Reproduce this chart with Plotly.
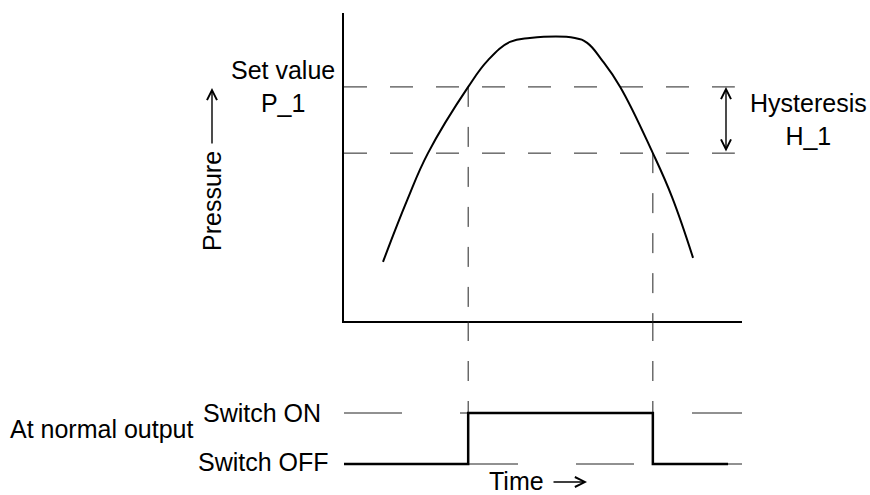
import plotly.graph_objects as go

W, H = 870, 495

# ---------------- data ----------------
time = [9.8, 15.9, 21.1, 31.2, 36.2, 41.7, 46.7, 58.0, 61.1, 64.8, 69.4, 77.6, 82.4, 87.7]
pressure = [19.2, 39.3, 54.5, 76.0, 84.7, 90.6, 91.9, 91.9, 90.3, 84.7, 76.0, 54.5, 40.3, 20.5]

set_value = 76.0        # P_1
reset_value = 54.5      # P_1 - H_1
t_on = 31.2
t_off = 77.6
ref_end = 98.2          # extent of the dashed pressure reference lines
level_end = 100.0       # extent of the dashed switch level lines

switch_t = [0, t_on, t_off, 96.5]
switch_state = [0, 1, 0, 0]
levels = [0, 1]         # OFF, ON

# ---------------- layout helpers ----------------
def px(x):
    return x / W

def py(y):
    return 1 - y / H

Y2_RANGE = [-16 / 51, 1 + 92 / 51]

BLACK = "black"
FONT = dict(family="Liberation Sans, Arial, sans-serif", size=25, color=BLACK)

fig = go.Figure()

# dashed pressure reference lines
for v in (set_value, reset_value):
    fig.add_trace(go.Scatter(x=[0, ref_end], y=[v, v], mode="lines",
                             line=dict(color="#222", width=1, dash="23px,23px"),
                             xaxis="x", yaxis="y", hoverinfo="skip"))

# vertical dashed lines
for t, v in ((t_on, set_value), (t_off, reset_value)):
    fig.add_trace(go.Scatter(x=[t, t], y=[v, 0], mode="lines",
                             line=dict(color="#222", width=1, dash="20px,20px"),
                             xaxis="x", yaxis="y", hoverinfo="skip"))
    fig.add_trace(go.Scatter(x=[t, t], y=[Y2_RANGE[1], 0], mode="lines",
                             line=dict(color="#222", width=1, dash="20px,20px"),
                             xaxis="x", yaxis="y2", hoverinfo="skip"))

# dashed switch levels
for lv in levels:
    fig.add_trace(go.Scatter(x=[0, level_end], y=[lv, lv], mode="lines",
                             line=dict(color="#222", width=1, dash="58px,58px"),
                             xaxis="x", yaxis="y2", hoverinfo="skip"))

# pressure curve
fig.add_trace(go.Scatter(x=time, y=pressure, mode="lines",
                         line=dict(color=BLACK, width=2, shape="spline", smoothing=1.2),
                         xaxis="x", yaxis="y", hoverinfo="skip"))

# switch output
fig.add_trace(go.Scatter(x=switch_t, y=switch_state, mode="lines",
                         line=dict(color=BLACK, width=2.5, shape="hv"),
                         xaxis="x", yaxis="y2", hoverinfo="skip"))

annotations = [
    dict(text="Set value<br>P_1", x=px(283), y=py(86), xanchor="center", yanchor="middle"),
    dict(text="Hysteresis<br>H_1", x=px(808), y=py(119), xanchor="center", yanchor="middle"),
    dict(text="Pressure", x=px(212), y=py(201), xanchor="center", yanchor="middle", textangle=-90),
    dict(text="Switch ON", x=px(323), y=py(413), xanchor="right", yanchor="middle"),
    dict(text="Switch OFF", x=px(331), y=py(462), xanchor="right", yanchor="middle"),
    dict(text="At normal output", x=px(8), y=py(429), xanchor="left", yanchor="middle"),
    dict(text="Time", x=px(516), y=py(481), xanchor="center", yanchor="middle"),
]
for a in annotations:
    a.update(xref="paper", yref="paper", showarrow=False, font=FONT)

arrows = [
    # Pressure arrow (up)
    dict(x=px(212), y=py(88), ax=0, ay=57, arrowside="end"),
    # Time arrow (right)
    dict(x=px(587), y=py(482), ax=-35, ay=0, arrowside="end"),
    # Hysteresis double arrow
    dict(x=px(726), y=py(87), ax=0, ay=66, arrowside="end+start"),
]
for a in arrows:
    a.update(xref="paper", yref="paper", text="", showarrow=True, arrowhead=5,
             startarrowhead=5, arrowsize=1.4, startarrowsize=1.4, arrowwidth=1.4,
             arrowcolor=BLACK, standoff=0, startstandoff=0)

fig.update_layout(
    width=W, height=H, autosize=False,
    margin=dict(l=0, r=0, t=0, b=0),
    paper_bgcolor="white", plot_bgcolor="white",
    showlegend=False,
    xaxis=dict(domain=[px(344), px(742)], range=[0, 100], showline=True,
               linecolor=BLACK, linewidth=2, showgrid=False, zeroline=False,
               showticklabels=False, ticks="", anchor="y"),
    yaxis=dict(domain=[py(321), py(13)], range=[0, 100], showline=True,
               linecolor=BLACK, linewidth=2, showgrid=False, zeroline=False,
               showticklabels=False, ticks="", anchor="x"),
    yaxis2=dict(domain=[py(480), py(321)], range=Y2_RANGE, showline=False,
                showgrid=False, zeroline=False, showticklabels=False, ticks="",
                anchor="x"),
    annotations=annotations + arrows,
)

fig.write_html(
    "out.html",
    config={"displayModeBar": False},
    post_script="document.body.style.margin='0';document.body.style.overflow='hidden';",
)
